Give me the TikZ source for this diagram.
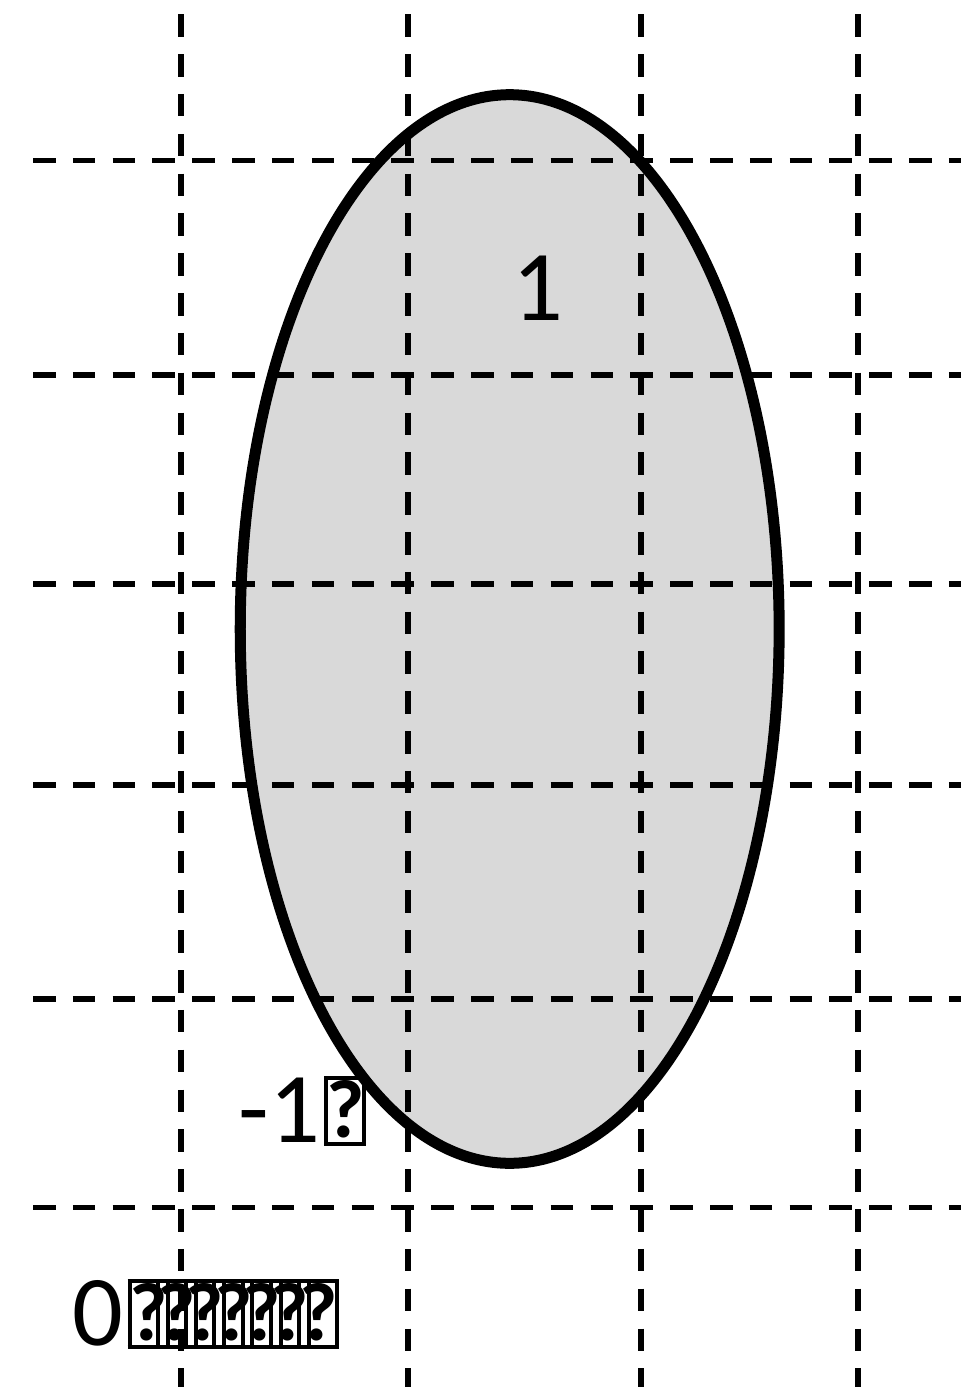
\documentclass[tikz,border=0pt]{standalone}
\usepackage{fontspec}
\setmainfont{Carlito}
\usepackage{tikz}
\usetikzlibrary{positioning}
\definecolor{shadegray}{HTML}{D9D9D9}
\tikzset{
  gridline/.style={black,line width=0.055cm,dash pattern=on 0.225cm off 0.173cm},
  blob/.style={black,line width=0.11cm},
  numtext/.style={inner sep=0pt,font=\fontsize{28.5}{30}\selectfont}
}
\newcommand{\missingglyph}{{\setlength{\fboxsep}{0pt}\setlength{\fboxrule}{0.04cm}%
  \framebox[0.42cm]{\rule{0pt}{0.58cm}\raisebox{0.05cm}{\fontsize{23.5}{24}\selectfont\bfseries ?}}}}
\newcommand{\overlapglyph}{\makebox[0.283cm][l]{\missingglyph}}

\begin{document}
\begin{tikzpicture}[x=0.01cm,y=-0.01cm]
\useasboundingbox (0,0) rectangle (961,1387);
\fill[shadegray] (509.7,629) ellipse [x radius=2.693cm, y radius=5.34cm];
\foreach \gy in {160.5,375,584,785,999,1207.7}
  \draw[gridline] (33,\gy) -- (961,\gy);
\foreach \gx in {181,408,641,858}
  \draw[gridline] (\gx,14.3) -- (\gx,1387);
\draw[blob] (509.7,629) ellipse [x radius=2.693cm, y radius=5.34cm];
\node[numtext,anchor=base] (one) at (537.5,320) {1};
\node[numtext,anchor=base west] (minusone) at (238,1142) {-1\kern0.04cm\missingglyph};
\node[numtext,anchor=base west] (zero) at (72,1345) {0\kern0.04cm\overlapglyph\overlapglyph\overlapglyph\overlapglyph\overlapglyph\overlapglyph\missingglyph};
\end{tikzpicture}
\end{document}
